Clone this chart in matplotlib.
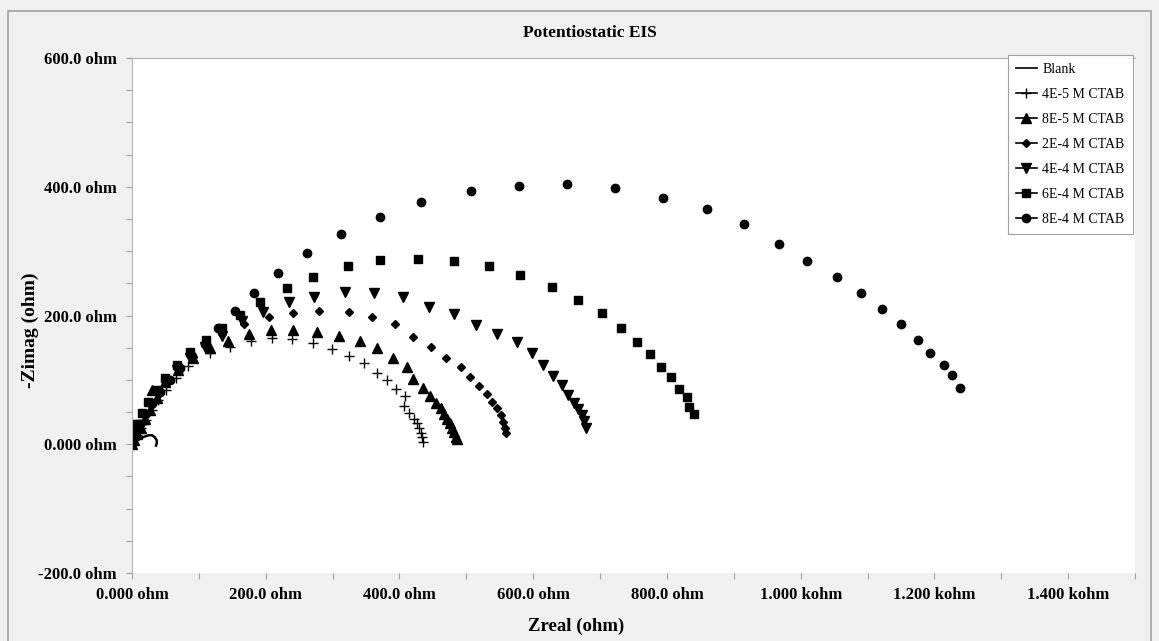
import matplotlib
matplotlib.use("Agg")
import matplotlib.pyplot as plt
from matplotlib.lines import Line2D
from matplotlib.patches import Rectangle
from matplotlib.ticker import MultipleLocator, FixedLocator, FixedFormatter

plt.rcParams['font.family'] = ['Liberation Serif', 'DejaVu Serif']

# Zreal / -Zimag in ohm
blank_x = [0, 3, 7, 13, 19, 25, 30, 34, 37, 37, 36]
blank_y = [0, 3, 6, 9, 12, 14, 14, 11, 6, 2, -2]

c4e5_x = [0, 3, 7, 13, 21, 30, 39, 51, 66, 84, 117, 147, 178, 209, 239, 271, 299, 324,
          347, 366, 381, 395, 408, 407, 414, 422, 426, 429, 432, 434, 435]
c4e5_y = [0, 6, 14, 25, 37, 53, 68, 84, 103, 121, 142, 151, 160, 165, 163, 157, 148, 137,
          126, 110, 100, 86, 75, 59, 48, 40, 33, 25, 17, 11, 3]

c8e5_x = [0, 3, 7, 13, 19, 27, 30, 37, 49, 69, 91, 117, 144, 175, 208, 241, 277, 309, 341,
          366, 390, 411, 420, 435, 445, 454, 462, 466, 471, 475, 478, 481, 484, 486]
c8e5_y = [0, 6, 16, 26, 39, 53, 84, 72, 96, 115, 134, 149, 160, 171, 177, 177, 174, 168, 160,
          149, 134, 120, 101, 87, 75, 64, 56, 47, 40, 33, 25, 19, 12, 8]

c2e4_x = [0, 3, 7, 13, 21, 30, 42, 55, 72, 91, 111, 135, 167, 205, 241, 280, 324, 359, 393,
          420, 447, 469, 492, 505, 519, 531, 538, 546, 552, 555, 558, 559]
c2e4_y = [0, 8, 19, 31, 45, 61, 79, 98, 117, 135, 152, 171, 187, 198, 204, 207, 205, 198, 187,
          166, 151, 134, 120, 104, 90, 78, 65, 56, 45, 34, 26, 17]

c4e4_x = [0, 1, 4, 10, 18, 27, 37, 51, 67, 87, 109, 135, 164, 196, 235, 272, 318, 362, 405,
          444, 481, 514, 546, 576, 598, 614, 629, 643, 652, 661, 667, 673, 676, 679]
c4e4_y = [0, 8, 17, 30, 45, 61, 78, 96, 115, 134, 151, 168, 191, 205, 221, 229, 236, 235, 229,
          213, 202, 185, 171, 159, 142, 123, 106, 92, 76, 64, 54, 45, 36, 26]

c6e4_x = [0, 3, 7, 15, 24, 36, 49, 67, 87, 111, 135, 161, 191, 232, 271, 323, 371, 428, 481,
          534, 581, 628, 667, 703, 731, 755, 774, 791, 806, 818, 830, 833, 840]
c6e4_y = [6, 17, 31, 48, 65, 84, 103, 123, 143, 162, 180, 201, 221, 243, 260, 277, 286, 288, 285,
          277, 263, 244, 224, 204, 180, 159, 140, 120, 104, 86, 73, 58, 47]

c8e4_x = [0, 1, 6, 12, 19, 30, 42, 57, 72, 90, 109, 129, 154, 182, 218, 262, 312, 371, 432,
          507, 579, 650, 723, 794, 860, 915, 967, 1010, 1054, 1090, 1121, 1150, 1175, 1193,
          1215, 1227, 1238]
c8e4_y = [2, 8, 19, 31, 47, 64, 81, 100, 118, 137, 156, 180, 207, 235, 266, 297, 327, 353, 376,
          393, 401, 404, 398, 383, 365, 342, 311, 285, 260, 235, 210, 187, 162, 142,
          123, 107, 87]

series_labels = ['4E-5 M CTAB', '8E-5 M CTAB', '2E-4 M CTAB', '4E-4 M CTAB', '6E-4 M CTAB', '8E-4 M CTAB']

xtick_vals = [0, 200, 400, 600, 800, 1000, 1200, 1400]
xtick_labels = ['0.000 ohm', '200.0 ohm', '400.0 ohm', '600.0 ohm', '800.0 ohm',
                '1.000 kohm', '1.200 kohm', '1.400 kohm']
ytick_vals = [-200, 0, 200, 400, 600]
ytick_labels = ['-200.0 ohm', '0.000 ohm', '200.0 ohm', '400.0 ohm', '600.0 ohm']

bg = '#f0f0f0'
fig = plt.figure(figsize=(11.59, 6.41), dpi=100, facecolor=bg)
fig.patches.append(Rectangle((8 / 1159, -0.01), 1143 / 1159, 1 - 11 / 641 + 0.01,
                             transform=fig.transFigure, fill=False,
                             edgecolor='#a0a0a0', linewidth=1.2))

ax = fig.add_axes([132 / 1159, 68 / 641, 1003 / 1159, 515 / 641])
ax.set_facecolor('white')

ax.plot(blank_x, blank_y, color='black', linewidth=1.8)
styles = [
    dict(marker='+', markersize=7, markeredgewidth=1.0),
    dict(marker='^', markersize=6.5),
    dict(marker='D', markersize=4.5),
    dict(marker='v', markersize=6.5),
    dict(marker='s', markersize=6),
    dict(marker='o', markersize=6),
]
all_x = [c4e5_x, c8e5_x, c2e4_x, c4e4_x, c6e4_x, c8e4_x]
all_y = [c4e5_y, c8e5_y, c2e4_y, c4e4_y, c6e4_y, c8e4_y]
for xs, ys, st in zip(all_x, all_y, styles):
    ax.plot(xs, ys, linestyle='none', color='black', markerfacecolor='black',
            markeredgecolor='black', **st)

ax.set_xlim(0, 1500)
ax.set_ylim(-200, 600)

ax.xaxis.set_major_locator(FixedLocator(xtick_vals))
ax.xaxis.set_major_formatter(FixedFormatter(xtick_labels))
ax.yaxis.set_major_locator(FixedLocator(ytick_vals))
ax.yaxis.set_major_formatter(FixedFormatter(ytick_labels))
ax.xaxis.set_minor_locator(MultipleLocator(100))
ax.yaxis.set_minor_locator(MultipleLocator(50))
ax.tick_params(which='both', direction='out', color='#a0a0a0', width=0.8, length=4)
ax.tick_params(axis='x', which='major', pad=6, labelsize=12)
ax.tick_params(axis='y', which='major', pad=7, labelsize=12)
for lab in ax.get_xticklabels() + ax.get_yticklabels():
    lab.set_fontweight('bold')

for side in ['bottom', 'right']:
    ax.spines[side].set_visible(False)
for side in ['left', 'top']:
    ax.spines[side].set_color('#b4b4b4')
    ax.spines[side].set_linewidth(0.8)

fig.text(590 / 1159, 1 - 33 / 641, 'Potentiostatic EIS', ha='center', va='center',
         fontsize=12.5, fontweight='bold')
fig.text(576 / 1159, 1 - 626 / 641, 'Zreal (ohm)', ha='center', va='center',
         fontsize=13.5, fontweight='bold')
fig.text(30 / 1159, 1 - 330 / 641, '-Zimag (ohm)', ha='center', va='center',
         rotation=90, fontsize=14, fontweight='bold')

handles = [Line2D([], [], color='black', linewidth=1.2)]
for st in styles:
    handles.append(Line2D([], [], color='black', linewidth=1.2, markerfacecolor='black',
                          markeredgecolor='black', **st))
leg = fig.legend(handles, ['Blank'] + series_labels, loc='upper right',
                 bbox_to_anchor=(1133 / 1159, 1 - 55 / 641), borderaxespad=0,
                 fontsize=10, frameon=True, fancybox=False, edgecolor='#a0a0a0',
                 facecolor='white', framealpha=1, handlelength=1.5, handletextpad=0.4,
                 labelspacing=0.86, borderpad=0.6)
leg.get_frame().set_linewidth(0.8)

fig.savefig('out.png', dpi=100, facecolor=bg)
